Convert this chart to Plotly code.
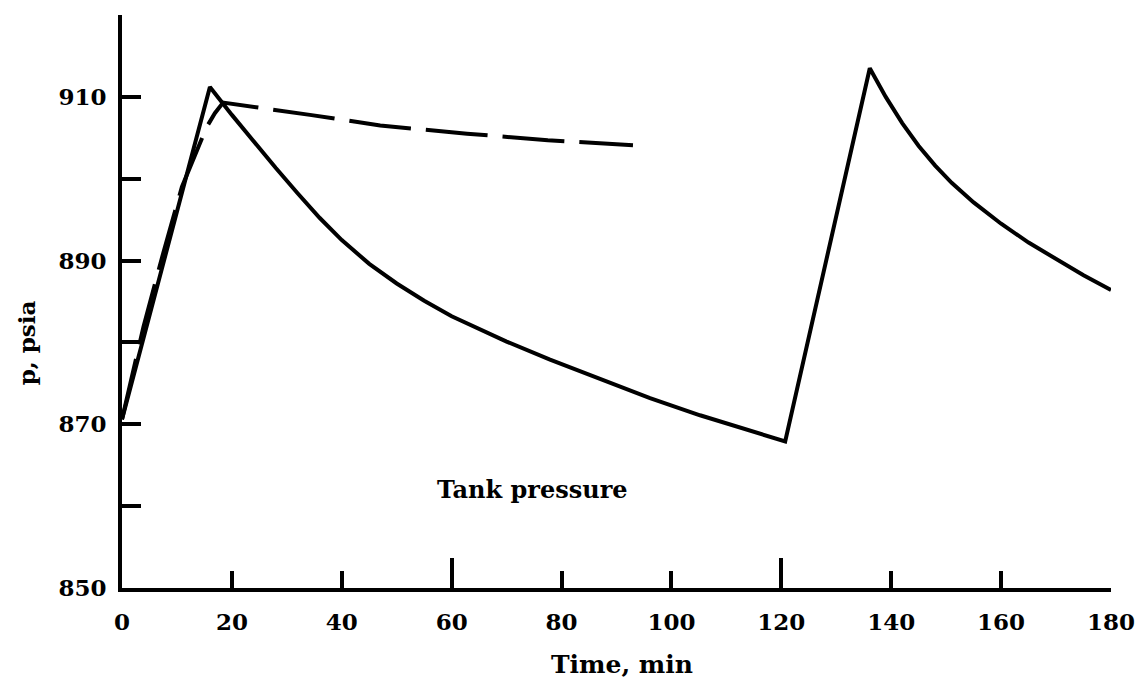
import plotly.graph_objects as go

# Solid curve: tank pressure (psia) vs time (min)
time_solid = [0, 16.0, 20.0, 24.0, 28.0, 32.0, 36.0, 40.0, 45.0, 50.0, 55.0, 60.0,
              65.0, 70.0, 77.9, 87.0, 96.1, 105.2, 114.3, 120.7,
              136.1, 139.0, 142.0, 145.0, 148.0, 151.0, 155.0, 160.0, 165.0,
              170.0, 175.0, 180.0]
p_solid = [870.6, 911.2, 907.8, 904.5, 901.3, 898.2, 895.2, 892.5, 889.6, 887.2,
           885.1, 883.2, 881.6, 880.1, 877.9, 875.5, 873.2, 871.1, 869.2, 867.9,
           913.5, 910.0, 906.8, 904.0, 901.6, 899.5, 897.1, 894.5, 892.2,
           890.2, 888.2, 886.4]

# Dashed curve
time_dashed = [0, 3.9, 7.5, 10.9, 15.4, 16.9, 18.4, 23.9, 34.2, 47.0, 62.8, 77.5, 93.0]
p_dashed = [870.6, 881.9, 890.9, 899.0, 906.3, 908.0, 909.3, 908.8, 907.8, 906.5,
            905.5, 904.7, 904.1]

x_ticks = [0, 20, 40, 60, 80, 100, 120, 140, 160, 180]
x_major_ticks = [60, 120, 180]
y_ticks = [850, 860, 870, 880, 890, 900, 910, 920]
y_labels = ["850", "", "870", "", "890", "", "910", ""]

FONT = "DejaVu Serif"
tick_font = dict(family=FONT, size=23, color="black", weight="bold")

fig = go.Figure()
fig.add_trace(go.Scatter(x=time_dashed, y=p_dashed, mode="lines",
                         line=dict(color="black", width=4, dash="62px,15px"),
                         xaxis="x2", showlegend=False, hoverinfo="skip"))
fig.add_trace(go.Scatter(x=time_solid, y=p_solid, mode="lines",
                         line=dict(color="black", width=4),
                         showlegend=False, hoverinfo="skip"))

axis_common = dict(showgrid=False, zeroline=False, color="black", automargin=False)

fig.update_layout(
    width=1139, height=682,
    margin=dict(l=122, r=28, t=15, b=94),
    paper_bgcolor="white", plot_bgcolor="white",
    font=dict(family=FONT, size=22, color="black"),
    xaxis=dict(range=[0, 180], tickvals=x_ticks, ticktext=[str(v) for v in x_ticks],
               ticks="inside", ticklen=17, tickwidth=4, tickcolor="black",
               showline=True, linewidth=4, linecolor="black", tickfont=tick_font,
               ticklabelstandoff=10, **axis_common),
    xaxis2=dict(range=[0, 180], overlaying="x", matches="x", anchor="y", side="bottom",
                tickvals=x_major_ticks, ticks="inside", ticklen=30, tickwidth=4,
                tickcolor="black", showticklabels=False, showline=False, **axis_common),
    yaxis=dict(range=[850, 920], tickvals=y_ticks, ticktext=y_labels,
               ticks="inside", ticklen=19, tickwidth=4, tickcolor="black",
               showline=True, linewidth=4, linecolor="black", tickfont=tick_font,
               ticklabelstandoff=7, **axis_common),
    annotations=[
        dict(text="Tank pressure", x=74.8, y=862, xref="x", yref="y",
             showarrow=False,
             font=dict(family=FONT, size=24, color="black", weight="bold")),
        dict(text="Time, min", x=0.506, y=-0.134, xref="paper", yref="paper",
             xanchor="center", yanchor="middle", showarrow=False,
             font=dict(family=FONT, size=25, color="black", weight="bold")),
        dict(text="p, psia", x=-0.097, y=879.9, xref="paper", yref="y",
             xanchor="center", yanchor="middle", textangle=-90, showarrow=False,
             font=dict(family=FONT, size=23, color="black", weight="bold")),
    ],
)

fig.write_html("out.html")
